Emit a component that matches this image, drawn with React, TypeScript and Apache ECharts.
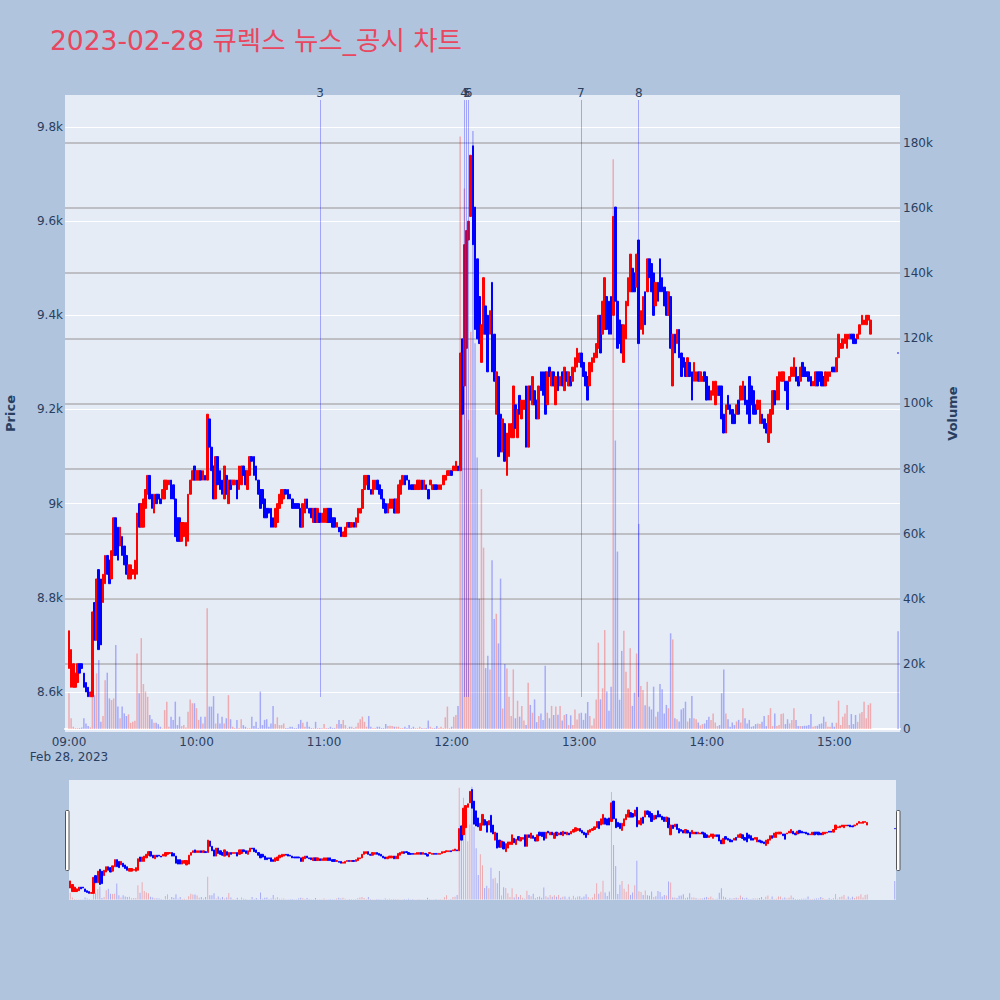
import React, { useEffect, useRef } from "react";
import * as echarts from "echarts";

const chartTitle = "2023-02-28 큐렉스 뉴스_공시 차트";
const dateLabel = "Feb 28, 2023";
const sessionStartMinute = 540; // 09:00, minutes after midnight

// one candle per minute from 09:00
const opens = [
  8650, 8610, 8610, 8610, 8620, 8660, 8660, 8640, 8620, 8610, 8590, 8590, 8790, 8710, 8860, 8840, 8790, 8830, 8890, 8880,
  8840, 8890, 8970, 8950, 8910, 8930, 8910, 8890, 8840, 8840, 8850, 8840, 8850, 9000, 8950, 8950, 8990, 9020, 9060, 9020,
  8980, 9020, 9020, 9010, 9010, 9010, 9030, 9040, 9050, 9040, 9010, 8970, 8970, 8920, 8930, 8910, 8920, 9020, 9050, 9080,
  9050, 9050, 9070, 9050, 9060, 9050, 9180, 9120, 9080, 9010, 9100, 9070, 9050, 9010, 9060, 9000, 9050, 9040, 9040, 9050,
  9030, 9040, 9080, 9070, 9030, 9060, 9100, 9100, 9080, 9050, 9030, 9030, 9010, 8990, 8990, 8990, 8970, 8950, 8960, 8990,
  9000, 9010, 9030, 9030, 9020, 9010, 9000, 9000, 9000, 8990, 8950, 8980, 9010, 8990, 8990, 8960, 8990, 8960, 8980, 8960,
  8960, 8960, 8990, 8990, 8970, 8970, 8950, 8950, 8950, 8930, 8930, 8950, 8960, 8950, 8960, 8950, 8960, 8980, 8990, 9030,
  9040, 9060, 9030, 9020, 9030, 9050, 9040, 9030, 9010, 9000, 8980, 8990, 8990, 9010, 8980, 8980, 9020, 9040, 9060, 9060,
  9050, 9040, 9040, 9030, 9030, 9030, 9050, 9030, 9040, 9030, 9040, 9030, 9040, 9040, 9030, 9030, 9040, 9050, 9060, 9060,
  9070, 9070, 9070, 9080, 9070, 9350, 9250, 9330, 9560, 9610, 9760, 9630, 9520, 9440, 9300, 9360, 9420, 9400, 9360, 9470,
  9360, 9190, 9270, 9190, 9110, 9170, 9060, 9100, 9140, 9140, 9210, 9140, 9230, 9180, 9200, 9250, 9120, 9250, 9210, 9240,
  9220, 9180, 9280, 9280, 9280, 9210, 9290, 9250, 9280, 9210, 9280, 9250, 9280, 9240, 9280, 9250, 9270, 9260, 9280, 9290,
  9300, 9320, 9300, 9280, 9270, 9250, 9280, 9300, 9310, 9330, 9400, 9360, 9370, 9440, 9430, 9440, 9400, 9630, 9430, 9390,
  9380, 9300, 9350, 9420, 9450, 9500, 9490, 9460, 9560, 9370, 9360, 9450, 9450, 9520, 9510, 9490, 9420, 9470, 9520, 9480,
  9460, 9450, 9400, 9440, 9250, 9360, 9340, 9370, 9320, 9310, 9300, 9270, 9300, 9280, 9260, 9260, 9280, 9260, 9260, 9280,
  9270, 9250, 9220, 9230, 9210, 9230, 9250, 9250, 9190, 9150, 9230, 9210, 9200, 9190, 9190, 9220, 9220, 9220, 9250, 9220,
  9270, 9250, 9240, 9210, 9200, 9170, 9190, 9180, 9170, 9130, 9150, 9190, 9240, 9220, 9220, 9260, 9260, 9260, 9260, 9260,
  9270, 9270, 9290, 9270, 9260, 9300, 9290, 9280, 9280, 9270, 9250, 9250, 9280, 9280, 9280, 9270, 9250, 9260, 9270, 9290,
  9290, 9280, 9310, 9330, 9330, 9340, 9330, 9350, 9360, 9360, 9350, 9350, 9360, 9380, 9380, 9380, 9390, 9360,
];

const closes = [
  8730, 8690, 8660, 8640, 8660, 8640, 8650, 8610, 8600, 8590, 8600, 8770, 8710, 8840, 8690, 8700, 8850, 8890, 8850, 8830,
  8900, 8970, 8890, 8880, 8950, 8890, 8870, 8850, 8870, 8870, 8860, 8880, 8980, 8950, 9000, 9010, 9030, 9060, 9010, 8990,
  9020, 9000, 9010, 9000, 9030, 9050, 9050, 9050, 9010, 9010, 8930, 8920, 8920, 8960, 8960, 8960, 9020, 9050, 9070, 9050,
  9070, 9070, 9050, 9070, 9050, 9190, 9120, 9070, 9010, 9100, 9040, 9030, 9020, 9080, 9020, 9050, 9030, 9050, 9050, 9010,
  9080, 9080, 9060, 9040, 9070, 9100, 9090, 9060, 9050, 9020, 8990, 9000, 8970, 8970, 8980, 8950, 8950, 8990, 9000, 9020,
  9030, 9030, 9020, 9010, 9010, 8990, 8990, 8990, 8990, 8950, 9000, 9010, 8990, 8980, 8970, 8990, 8960, 8990, 8960, 8980,
  8990, 8990, 8960, 8960, 8950, 8950, 8960, 8940, 8930, 8940, 8950, 8960, 8950, 8960, 8950, 8970, 8990, 8990, 9030, 9060,
  9060, 9030, 9020, 9050, 9050, 9030, 9020, 9010, 8990, 8980, 9000, 9010, 9010, 8980, 9010, 9040, 9050, 9060, 9040, 9050,
  9030, 9030, 9030, 9040, 9050, 9050, 9030, 9050, 9030, 9010, 9050, 9040, 9030, 9030, 9040, 9040, 9060, 9060, 9070, 9070,
  9060, 9080, 9090, 9070, 9320, 9190, 9550, 9580, 9600, 9740, 9550, 9370, 9350, 9340, 9380, 9480, 9360, 9280, 9410, 9280,
  9260, 9280, 9100, 9110, 9180, 9090, 9150, 9170, 9170, 9250, 9160, 9200, 9190, 9220, 9220, 9120, 9250, 9220, 9270, 9210,
  9180, 9250, 9240, 9230, 9190, 9280, 9270, 9280, 9250, 9270, 9240, 9270, 9250, 9290, 9260, 9280, 9250, 9290, 9310, 9330,
  9320, 9290, 9270, 9250, 9220, 9300, 9310, 9320, 9340, 9400, 9320, 9430, 9480, 9370, 9360, 9360, 9610, 9430, 9330, 9340,
  9320, 9380, 9430, 9480, 9530, 9450, 9450, 9530, 9340, 9410, 9440, 9380, 9520, 9480, 9450, 9400, 9470, 9430, 9450, 9450,
  9420, 9400, 9450, 9330, 9360, 9320, 9370, 9310, 9270, 9290, 9270, 9310, 9270, 9220, 9300, 9280, 9260, 9280, 9270, 9260,
  9220, 9220, 9240, 9260, 9260, 9250, 9230, 9180, 9150, 9210, 9200, 9190, 9170, 9170, 9210, 9190, 9250, 9260, 9210, 9190,
  9170, 9210, 9190, 9190, 9220, 9220, 9170, 9160, 9150, 9190, 9200, 9240, 9210, 9270, 9280, 9280, 9280, 9240, 9200, 9270,
  9290, 9310, 9260, 9250, 9290, 9270, 9270, 9270, 9260, 9250, 9260, 9280, 9250, 9260, 9250, 9250, 9280, 9280, 9280, 9280,
  9280, 9310, 9360, 9340, 9350, 9360, 9360, 9360, 9350, 9340, 9340, 9360, 9380, 9400, 9390, 9400, 9400, 9390,
];

// traded volume per minute, in thousands of shares
const volumeThousands = [
  11.0, 3.3, 0.7, 0.3, 0.3, 0.3, 0.5, 3.3, 1.7, 0.9, 0.5, 10.0, 10.4, 17.1, 21.2, 2.2, 4.0, 15.0, 17.3, 9.4,
  8.9, 9.4, 25.8, 6.9, 3.3, 6.9, 4.8, 4.0, 4.5, 1.9, 2.2, 2.5, 23.2, 11.0, 27.9, 13.8, 11.5, 9.9, 4.3, 3.0,
  1.9, 1.9, 1.5, 0.7, 0.2, 5.8, 8.4, 0.7, 3.8, 2.8, 8.4, 1.2, 3.8, 0.9, 1.2, 0.5, 5.3, 9.1, 7.9, 7.9,
  6.4, 2.8, 3.8, 1.7, 3.8, 37.1, 6.9, 6.9, 10.1, 1.7, 4.8, 1.7, 3.8, 1.7, 3.3, 10.4, 3.0, 0.7, 0.3, 2.8,
  0.3, 3.0, 1.2, 0.7, 0.3, 0.3, 3.8, 0.9, 2.2, 0.3, 11.5, 1.2, 2.8, 3.0, 0.7, 1.7, 7.1, 1.5, 3.6, 1.2,
  1.2, 1.7, 0.3, 0.3, 0.7, 0.7, 0.3, 0.3, 1.5, 2.8, 1.9, 0.7, 2.2, 0.7, 0.3, 0.3, 2.2, 0.3, 0.3, 0.3,
  1.5, 0.3, 0.3, 0.7, 0.3, 0.3, 1.5, 2.8, 1.5, 2.8, 1.2, 0.3, 0.7, 0.7, 0.3, 0.7, 1.9, 3.0, 3.8, 2.2,
  0.7, 4.0, 0.7, 0.3, 0.3, 0.7, 0.7, 0.3, 0.3, 1.5, 0.9, 1.0, 0.9, 0.7, 0.7, 0.7, 0.3, 0.3, 0.7, 0.3,
  1.2, 0.3, 0.7, 0.3, 0.3, 0.7, 0.3, 0.3, 0.3, 2.6, 0.7, 0.3, 0.3, 0.9, 0.3, 0.7, 0.3, 3.6, 6.9, 0.3,
  0.7, 3.8, 4.3, 7.1, 182, 110, 166, 140, 95, 122, 183.7, 118.5, 83.4, 40, 73.7, 55.7, 18.7, 22.5, 18.3, 51.8,
  33.8, 35.4, 26.3, 46.2, 6.3, 20, 18.6, 9.9, 4, 18.3, 3.3, 8.7, 3.8, 7.1, 2.6, 1.2, 14.2, 7.4, 5, 9.1,
  2.1, 4, 4.8, 2.8, 19.4, 5, 3.3, 7.1, 4.3, 6.9, 4.4, 7.1, 2.6, 4.3, 4.6, 1.2, 4.2, 1.2, 6, 2.9,
  4.8, 5, 2.8, 4.8, 8.3, 4, 1.1, 3.2, 9.1, 26.5, 9.1, 12.5, 30.4, 11.5, 5.6, 13, 175, 88.6, 54.5, 9,
  24, 30.2, 17.6, 12.5, 24.8, 7.1, 11.2, 23.2, 63, 13.2, 12, 7.3, 14.5, 6.9, 6, 13, 3.8, 5.3, 13.8, 12.2,
  4.8, 7.4, 6.4, 29.4, 27.5, 3.3, 3, 2.3, 6, 6.4, 8.4, 2.3, 3.3, 10.1, 3.3, 3, 2, 1.1, 1.5, 1.7,
  2.8, 3.8, 2.8, 4.8, 2, 0.9, 1.2, 11, 18.3, 4.8, 3, 0.7, 2, 1.2, 2.3, 2.8, 2, 6.4, 3.3, 1.7,
  2.8, 0.7, 0.9, 1.5, 1.7, 1.5, 2.2, 4, 0.9, 4.3, 6.4, 0.9, 4.8, 0.9, 1.2, 4.6, 4.8, 1.5, 3, 1.7,
  2.8, 6.4, 2.8, 0.9, 0.9, 0.9, 1, 1, 1.2, 4.6, 0.7, 0.9, 1, 1.5, 1.7, 3.8, 2.2, 0.7, 0.7, 1.9,
  0.7, 1.9, 8.7, 1.2, 3.8, 4.8, 7.4, 1.2, 4.6, 1.5, 4.3, 2.2, 4.8, 5.2, 8.4, 3.3, 7.4, 7.9,
];

// closing auction (15:30)
const closingMinute = 930;
const closingPrice = 9320;
const closingVolumeThousands = 30;

// news / disclosure markers
const newsLabels = ["3", "4", "5", "6", "7", "8"];
const newsMinutes = [658.1, 725.8, 727.1, 728.0, 780.8, 808.0];

const UP = "#ff0000";
const DOWN = "#0000ff";
const UP_VOL = "rgba(255,0,0,0.28)";
const DOWN_VOL = "rgba(0,0,255,0.28)";
const FONT = '"DejaVu Sans", Verdana, "Noto Sans CJK KR", sans-serif';
const INK = "#2a3f5f";

function pad(n: number) {
  return n < 10 ? "0" + n : String(n);
}

export default function App() {
  const ref = useRef<HTMLDivElement>(null);

  useEffect(() => {
    if (!ref.current) return;
    const chart = echarts.init(ref.current, null, { renderer: "svg" });

    const candles: number[][] = opens.map((o, i) => {
      const c = closes[i];
      return [sessionStartMinute + i, o, c, Math.min(o, c), Math.max(o, c)];
    });
    candles.push([closingMinute, closingPrice, closingPrice, closingPrice, closingPrice]);

    const isUp = (i: number) => {
      if (i < opens.length) {
        if (closes[i] !== opens[i]) return closes[i] > opens[i];
        return i > 0 ? closes[i] >= closes[i - 1] : true;
      }
      return closingPrice >= closes[closes.length - 1];
    };

    const vols: any[] = volumeThousands.map((v, i) => ({
      value: [sessionStartMinute + i, v * 1000],
      itemStyle: { color: isUp(i) ? UP_VOL : DOWN_VOL },
    }));
    vols.push({
      value: [closingMinute, closingVolumeThousands * 1000],
      itemStyle: { color: isUp(opens.length) ? UP_VOL : DOWN_VOL },
    });

    const timeFormatter = (v: number) => {
      if (Math.abs(v - Math.round(v)) > 1e-6 || Math.round(v) % 60 !== 0) return "";
      const r = Math.round(v);
      const s = pad(Math.floor(r / 60)) + ":" + pad(r % 60);
      return r === sessionStartMinute ? s + "\n" + dateLabel : s;
    };
    const priceFormatter = (v: number) => {
      const r = Math.round(v);
      if (Math.abs(v - r) > 1e-6 || r % 200 !== 0) return "";
      return String(r / 1000) + "k";
    };
    const volFormatter = (v: number) => {
      const r = Math.round(v);
      if (Math.abs(v - r) > 1e-6 || r % 20000 !== 0 || r < 0) return "";
      return r === 0 ? "0" : String(r / 1000) + "k";
    };

    const candleStyle = {
      color: UP,
      color0: DOWN,
      borderColor: UP,
      borderColor0: DOWN,
      borderWidth: 1,
    };

    const option: any = {
      animation: false,
      backgroundColor: "#b0c4de",
      textStyle: { fontFamily: FONT },
      title: {
        text: chartTitle,
        left: 50,
        top: 27,
        padding: 0,
        textStyle: { color: "#e8475f", fontSize: 26.5, fontWeight: "normal", fontFamily: FONT },
      },
      grid: [
        { left: 65, top: 95, width: 835, height: 637, show: true, backgroundColor: "#e5ecf6", borderWidth: 0, containLabel: false, outerBoundsMode: "none" },
        { left: 69, top: 780, width: 827, height: 120, show: true, backgroundColor: "#e5ecf6", borderWidth: 0, containLabel: false, outerBoundsMode: "none" },
      ],
      xAxis: [
        {
          type: "value",
          gridIndex: 0,
          min: 538.12,
          max: 930.9,
          minInterval: 60,
          maxInterval: 60,
          splitLine: { show: false },
          axisTick: { show: false },
          axisLine: { show: true, onZero: true, onZeroAxisIndex: 1, lineStyle: { color: "#ffffff", width: 2 } },
          axisLabel: { formatter: timeFormatter, color: INK, fontSize: 12, margin: 2, lineHeight: 15, fontFamily: FONT },
        },
        { type: "value", gridIndex: 1, min: 539.4, max: 930.6, show: false },
      ],
      yAxis: [
        {
          type: "value",
          gridIndex: 0,
          position: "left",
          min: 8515,
          max: 9868,
          minInterval: 200,
          maxInterval: 200,
          name: "Price",
          nameLocation: "middle",
          nameGap: 48,
          nameTextStyle: { color: INK, fontSize: 13, fontWeight: "bold", fontFamily: FONT },
          axisLine: { show: false },
          axisTick: { show: false },
          axisLabel: { formatter: priceFormatter, color: INK, fontSize: 12, margin: 2, fontFamily: FONT },
          splitLine: { show: true, showMinLine: false, showMaxLine: false, lineStyle: { color: "#ffffff", width: 1 } },
        },
        {
          type: "value",
          gridIndex: 0,
          position: "right",
          min: -920,
          max: 194740,
          minInterval: 20000,
          maxInterval: 20000,
          name: "Volume",
          nameLocation: "middle",
          nameGap: 46,
          nameTextStyle: { color: INK, fontSize: 13, fontWeight: "bold", fontFamily: FONT },
          axisLine: { show: false },
          axisTick: { show: false },
          axisLabel: { formatter: volFormatter, color: INK, fontSize: 12, margin: 3, fontFamily: FONT },
          splitLine: { show: true, showMinLine: false, showMaxLine: false, lineStyle: { color: "#b0b0b4", width: 1.5 } },
        },
        { type: "value", gridIndex: 1, min: 8515, max: 9868, show: false },
        { type: "value", gridIndex: 1, min: -920, max: 194740, show: false },
      ],
      series: [
        {
          type: "bar",
          name: "Volume",
          xAxisIndex: 0,
          yAxisIndex: 1,
          data: vols,
          barWidth: 1.5,
          z: 2,
          silent: true,
          markLine: {
            silent: true,
            symbol: ["none", "none"],
            lineStyle: { color: "rgba(0,0,255,0.3)", width: 1, type: "solid" },
            label: { show: true, position: "end", formatter: "{b}", color: INK, fontSize: 12, distance: 1, fontFamily: FONT },
            data: newsMinutes.map((t, i) => [
              { coord: [t, 9830], name: newsLabels[i] },
              { coord: [t, 193200] },
            ]),
          },
        },
        {
          type: "candlestick",
          name: "Price",
          xAxisIndex: 0,
          yAxisIndex: 0,
          data: candles,
          barWidth: 2.2,
          z: 3,
          silent: true,
          itemStyle: candleStyle,
        },
        {
          type: "bar",
          xAxisIndex: 1,
          yAxisIndex: 3,
          data: vols,
          barWidth: 1,
          silent: true,
          z: 2,
        },
        {
          type: "candlestick",
          xAxisIndex: 1,
          yAxisIndex: 2,
          data: candles,
          barWidth: 1.8,
          silent: true,
          z: 3,
          itemStyle: candleStyle,
        },
      ],
      graphic: [
        {
          type: "rect",
          shape: { x: 65.5, y: 810.5, width: 3.5, height: 60, r: 1 },
          style: { fill: "#ffffff", stroke: "#555555", lineWidth: 1 },
          z: 10,
        },
        {
          type: "rect",
          shape: { x: 896.5, y: 810.5, width: 3.5, height: 60, r: 1 },
          style: { fill: "#ffffff", stroke: "#555555", lineWidth: 1 },
          z: 10,
        },
      ],
    };

    chart.setOption(option);
    return () => chart.dispose();
  }, []);

  return (
    <div
      ref={ref}
      style={{ position: "fixed", left: 0, top: 0, width: 1000, height: 1000 }}
    />
  );
}
